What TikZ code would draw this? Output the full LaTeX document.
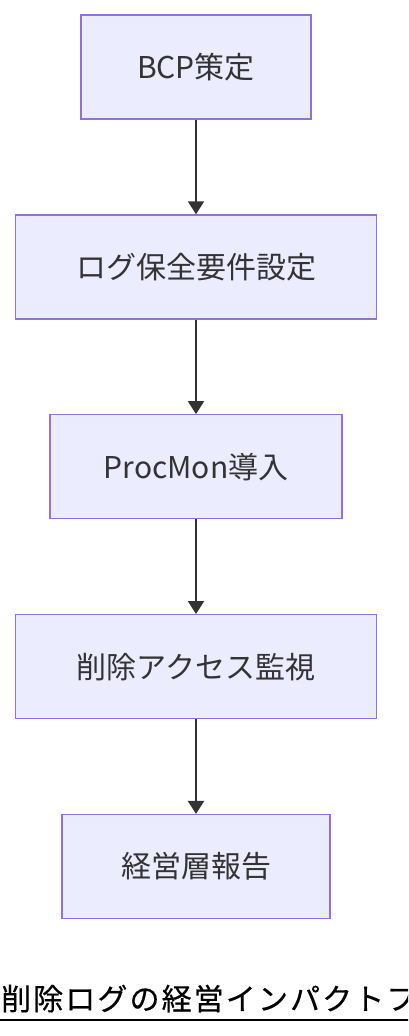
\documentclass[tikz,border=0pt]{standalone}
\usepackage{fontspec}
\setmainfont{Noto Sans CJK JP}
\newfontfamily\titlefont[LetterSpace=7,FakeBold=0.5]{Noto Sans CJK JP}
\usetikzlibrary{positioning,arrows.meta}
\definecolor{boxfill}{HTML}{ECECFF}
\definecolor{boxline}{HTML}{9370DB}
\definecolor{flowtext}{HTML}{333333}
\tikzset{
  flowbox/.style={draw=boxline, fill=boxfill, line width=1.3pt, minimum height=104pt,
    inner sep=0pt, text=flowtext, font=\fontsize{30}{36}\selectfont},
  flowarrow/.style={draw=flowtext, line width=2pt, -{Triangle[length=13pt,width=16pt]}},
}
\begin{document}
\begin{tikzpicture}
\useasboundingbox (0,0) rectangle (408pt,-1036pt);
\clip (0,0) rectangle (408pt,-1036pt);

\node[flowbox, minimum width=230pt] at (196pt,-67pt) (bcp) {BCP策定};
\node[flowbox, minimum width=361pt, below=94.6pt of bcp] (logreq) {ログ保全要件設定};
\node[flowbox, minimum width=292pt, below=94.6pt of logreq] (procmon) {ProcMon導入};
\node[flowbox, minimum width=361pt, below=94.6pt of procmon] (watch) {削除アクセス監視};
\node[flowbox, minimum width=268pt, below=94.6pt of watch] (report) {経営層報告};

\draw[flowarrow] (bcp) -- (logreq);
\draw[flowarrow] (logreq) -- (procmon);
\draw[flowarrow] (procmon) -- (watch);
\draw[flowarrow] (watch) -- (report);

% title, cut at the right edge
\node[anchor=base west, inner sep=0pt, font=\titlefont\fontsize{30}{36}\selectfont] at (1pt,-1010pt) (title) {削除ログの経営インパクトフ};
\draw[line width=2pt] ([xshift=-2pt,yshift=-10pt]title.base west) -- ([xshift=40pt,yshift=-10pt]title.base east);
\end{tikzpicture}
\end{document}
